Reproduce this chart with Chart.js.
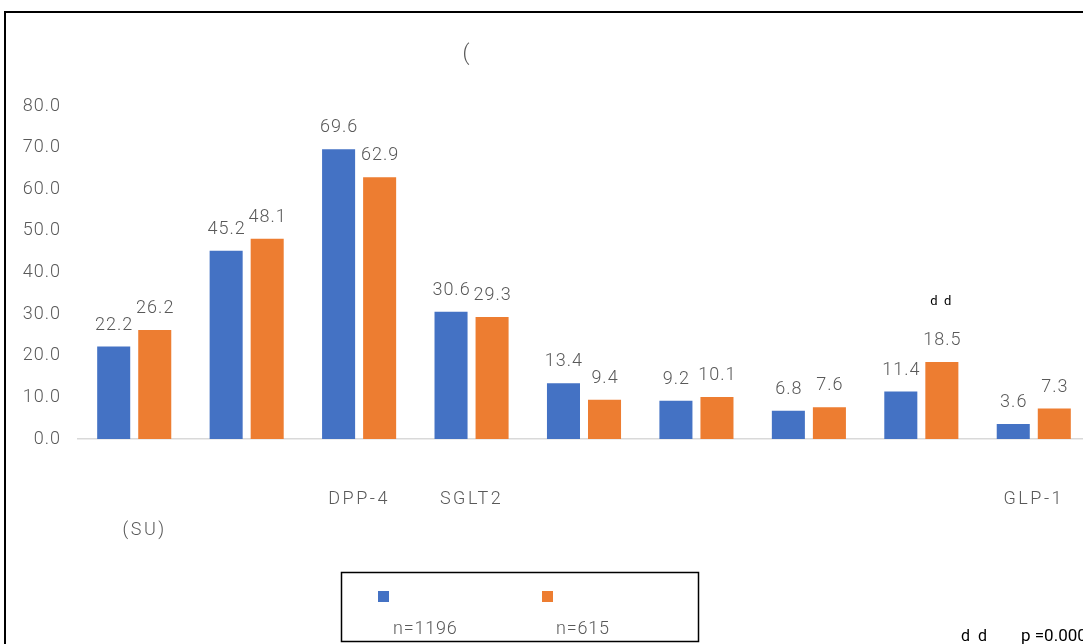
<!DOCTYPE html>
<html>
<head>
<meta charset="utf-8">
<script src="https://cdn.jsdelivr.net/npm/chart.js@4.4.1/dist/chart.umd.min.js"></script>
<style>
  html, body { margin: 0; padding: 0; overflow: hidden; background: #fff; width: 1083px; height: 644px; }
  canvas { display: block; }
</style>
</head>
<body>
<canvas id="c" width="1100" height="644"></canvas>
<script>
const categories = [
  ["", "", "\u2003(SU)"],
  "",
  ["", "DPP-4"],
  ["", "SGLT2"],
  "",
  "",
  "",
  "",
  ["", "GLP-1"]
];
const seriesA = [22.2, 45.2, 69.6, 30.6, 13.4, 9.2, 6.8, 11.4, 3.6];
const seriesB = [26.2, 48.1, 62.9, 29.3, 9.4, 10.1, 7.6, 18.5, 7.3];
const legendLabels = ["n=1196", "n=615"];
const titleText = "(";
const yTicks = [0, 10, 20, 30, 40, 50, 60, 70, 80];
const noteTop = "d  d";
const noteBottom = "d  d";
const noteP = "p =0.000";

const BLUE = "#4472C4";
const ORANGE = "#ED7D31";
const GRAY = "#595959";
const FONT = "Roboto";
const W = 300;

const spacing = {
  id: "spacing",
  afterLayout(chart) {
    const wrap = (scale, sp) => {
      if (scale._wrapped) return;
      const orig = scale.drawLabels;
      scale.drawLabels = function (area) {
        const ctx = this.ctx;
        ctx.save();
        ctx.letterSpacing = sp;
        orig.call(this, area);
        ctx.restore();
      };
      scale._wrapped = true;
    };
    wrap(chart.scales.x, "2.5px");
    wrap(chart.scales.y, "1px");
  }
};

const extras = {
  id: "extras",
  afterDraw(chart) {
    const ctx = chart.ctx;
    ctx.save();
    ctx.letterSpacing = "0px";
    // outer border
    ctx.strokeStyle = "#000";
    ctx.lineWidth = 2;
    ctx.strokeRect(5, 12, 2000, 2000);
    // title
    ctx.fillStyle = GRAY;
    ctx.font = W + " 22px " + FONT;
    ctx.textAlign = "center";
    ctx.textBaseline = "alphabetic";
    ctx.fillText(titleText, 466, 60);
    // value labels
    ctx.font = W + " 18px " + FONT;
    ctx.letterSpacing = "1px";
    ctx.fillStyle = GRAY;
    chart.data.datasets.forEach((ds, di) => {
      const meta = chart.getDatasetMeta(di);
      meta.data.forEach((bar, i) => {
        ctx.fillText(ds.data[i].toFixed(1), bar.x + 0.5, bar.y - 17);
      });
    });
    ctx.letterSpacing = "0px";
    // annotation above cat 8 orange bar
    const b8 = chart.getDatasetMeta(1).data[7];
    ctx.fillStyle = "#000";
    ctx.font = "13px " + FONT;
    ctx.fillText(noteTop, b8.x - 1, b8.y - 57);
    // bottom notes
    ctx.textAlign = "left";
    ctx.font = "16px " + FONT;
    ctx.fillText(noteBottom, 961, 641);
    ctx.font = "17px " + FONT;
    ctx.fillText(noteP, 1021, 641);
    // legend box
    ctx.strokeStyle = "#000";
    ctx.lineWidth = 1.5;
    ctx.strokeRect(341.5, 572.5, 357, 69);
    const items = [{c: BLUE, x: 378, tx: 393}, {c: ORANGE, x: 542, tx: 556}];
    ctx.font = W + " 18px " + FONT;
    ctx.letterSpacing = "0.8px";
    items.forEach((it, k) => {
      ctx.fillStyle = it.c;
      ctx.fillRect(it.x, 591, 11, 11);
      ctx.fillStyle = GRAY;
      ctx.textAlign = "left";
      ctx.fillText(legendLabels[k], it.tx, 634);
    });
    ctx.restore();
  }
};

new Chart(document.getElementById("c"), {
  type: "bar",
  data: {
    labels: categories,
    datasets: [
      { label: legendLabels[0], data: seriesA, backgroundColor: BLUE, categoryPercentage: 0.73, barPercentage: 0.805 },
      { label: legendLabels[1], data: seriesB, backgroundColor: ORANGE, categoryPercentage: 0.73, barPercentage: 0.805 }
    ]
  },
  options: {
    responsive: false,
    animation: false,
    layout: { padding: { top: 106, right: 10, left: 0, bottom: 0 } },
    plugins: { legend: { display: false }, title: { display: false }, tooltip: { enabled: false } },
    scales: {
      x: {
        grid: { display: false, drawTicks: false },
        border: { display: true, color: "#d9d9d9", width: 1.5 },
        ticks: { color: GRAY, font: { family: FONT, size: 18, weight: W, lineHeight: 1.7 }, padding: 15, maxRotation: 0, autoSkip: false },
        afterFit(s) { s.height = 205; }
      },
      y: {
        min: 0, max: 80,
        afterBuildTicks(s) { s.ticks = yTicks.map(v => ({ value: v })); },
        grid: { display: false, drawTicks: false },
        border: { display: false },
        ticks: { color: GRAY, font: { family: FONT, size: 18, weight: W }, padding: 17, callback: v => Number(v).toFixed(1) },
        afterFit(s) { s.width = 78; }
      }
    }
  },
  plugins: [spacing, extras]
});
</script>
</body>
</html>
